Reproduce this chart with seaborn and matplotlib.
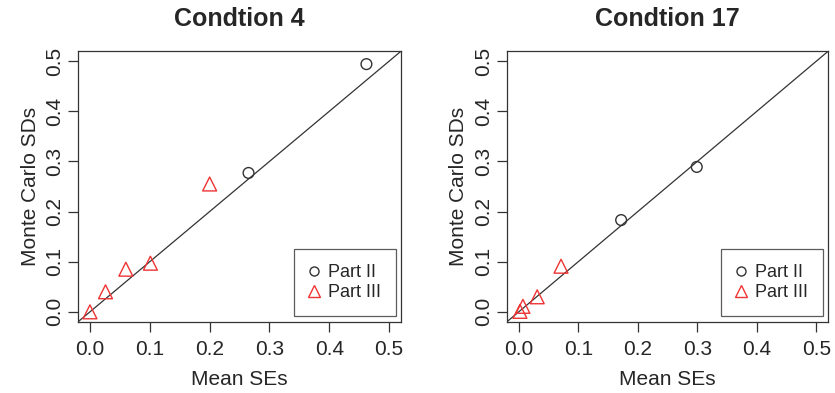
import matplotlib
matplotlib.use("Agg")
import matplotlib.pyplot as plt
import seaborn as sns
import pandas as pd
from matplotlib.lines import Line2D

sns.set_style("white")
plt.rcParams['font.family'] = ['Liberation Sans', 'DejaVu Sans']

titles = ["Condtion 4", "Condtion 17"]
# Condition 4
c4_part2_x = [0.265, 0.462]
c4_part2_y = [0.277, 0.494]
c4_part3_x = [0.0, 0.026, 0.060, 0.101, 0.200]
c4_part3_y = [0.0, 0.040, 0.085, 0.097, 0.255]
# Condition 17
c17_part2_x = [0.172, 0.299]
c17_part2_y = [0.183, 0.289]
c17_part3_x = [0.002, 0.007, 0.031, 0.071]
c17_part3_y = [0.001, 0.011, 0.030, 0.091]

ticks = [0.0, 0.1, 0.2, 0.3, 0.4, 0.5]
tick_labels = ["0.0", "0.1", "0.2", "0.3", "0.4", "0.5"]

fig = plt.figure(figsize=(8.35, 3.93), dpi=100)
pos = [[0.0934, 0.181, 0.387, 0.689], [0.607, 0.181, 0.385, 0.689]]
data = [(c4_part2_x, c4_part2_y, c4_part3_x, c4_part3_y),
        (c17_part2_x, c17_part2_y, c17_part3_x, c17_part3_y)]

for i in range(2):
    ax = fig.add_axes(pos[i])
    p2x, p2y, p3x, p3y = data[i]
    d2 = pd.DataFrame({"x": p2x, "y": p2y})
    d3 = pd.DataFrame({"x": p3x, "y": p3y})
    ax.axline((0, 0), slope=1, color="#333333", lw=0.9, zorder=1)
    sns.scatterplot(data=d2, x="x", y="y", ax=ax, marker="o", s=60,
                    facecolors="none", edgecolor="#333333", linewidth=1.0, zorder=3)
    sns.scatterplot(data=d3, x="x", y="y", ax=ax, marker="^", s=100,
                    facecolors="none", edgecolor="#ee3333", linewidth=1.0, zorder=3)
    ax.set_xlim(-0.02, 0.52)
    ax.set_ylim(-0.02, 0.52)
    ax.set_xticks(ticks)
    ax.set_xticklabels(tick_labels, fontsize=15)
    ax.set_yticks(ticks)
    ax.set_yticklabels(tick_labels, fontsize=15, rotation=90, va="center")
    ax.tick_params(direction="out", length=7, width=0.9, color="#333333",
                   bottom=True, left=True)
    ax.tick_params(axis="x", pad=6)
    ax.tick_params(axis="y", pad=3)
    for sp in ax.spines.values():
        sp.set_visible(True)
        sp.set_color("#333333")
        sp.set_linewidth(0.9)
    ax.set_xlabel("Mean SEs", fontsize=15, labelpad=8)
    ax.set_ylabel("Monte Carlo SDs", fontsize=15, labelpad=4)
    ax.set_title(titles[i], fontsize=18, fontweight="bold", pad=18)
    handles = [
        Line2D([], [], marker="o", ls="none", mfc="none", mec="#333333", ms=6.5, mew=1.0, label="Part II"),
        Line2D([], [], marker="^", ls="none", mfc="none", mec="#ee3333", ms=8, mew=1.0, label="Part III"),
    ]
    leg = ax.legend(handles=handles, loc="lower right", bbox_to_anchor=(0.983, 0.022),
                    fontsize=13, frameon=True, fancybox=False, borderpad=0.8,
                    handletextpad=0.5, handlelength=0.6, labelspacing=0.2,
                    borderaxespad=0)
    leg.get_frame().set_edgecolor("#333333")
    leg.get_frame().set_linewidth(0.9)

fig.savefig("out.png", dpi=100)
